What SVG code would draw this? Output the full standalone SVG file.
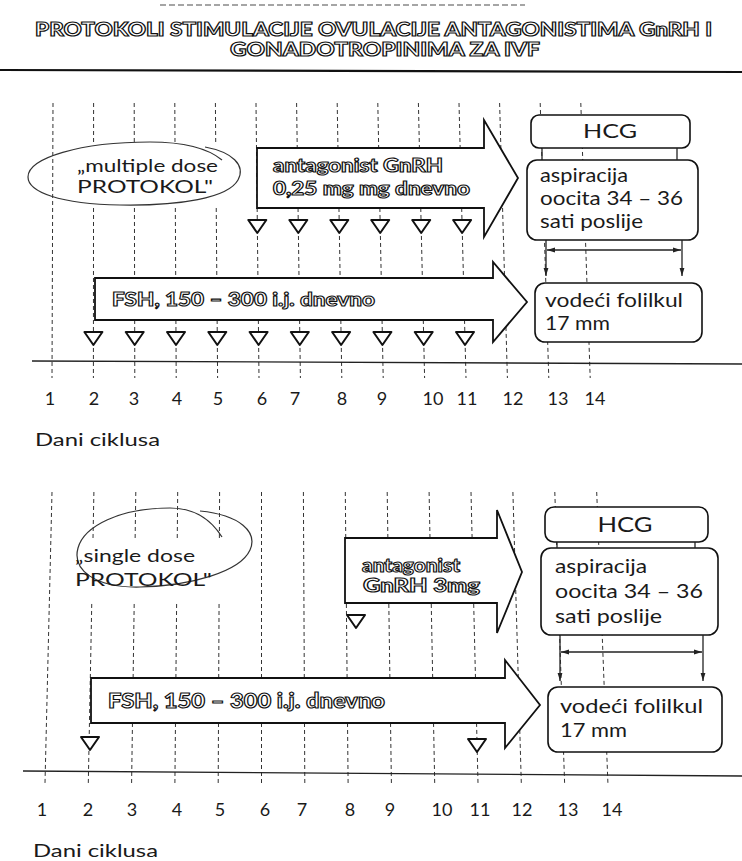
<svg xmlns="http://www.w3.org/2000/svg" width="742" height="861" viewBox="0 0 742 861">
<style>
 .grid line{stroke:#333;stroke-width:1;stroke-dasharray:4 3}
 .axis{stroke:#222;stroke-width:1.3}
 .box{fill:#fff;stroke:#111;stroke-width:1.6}
 .arrow{fill:#fff;stroke:#111;stroke-width:1.8}
 .hollow{font-family:Lato,"Liberation Sans",sans-serif;font-weight:900;fill:#fff;stroke:#111;stroke-width:1.1}
 .t{font-family:Lato,"Open Sans",sans-serif;fill:#1a1a1a}
 .tri{fill:#fff;stroke:#111;stroke-width:2;stroke-linejoin:round}
 .loop{fill:none;stroke:#333;stroke-width:1.2}
 .conn{stroke:#222;stroke-width:1.3;fill:none}
 .mask{fill:#fff}
 .num{font-family:Lato,"Open Sans",sans-serif;font-size:18px;fill:#1a1a1a;text-anchor:middle}
</style>
<defs>
 <path id="tri" d="M-9,0 H9 L0,13 Z"/>
 <marker id="ah" viewBox="0 0 10 10" refX="10" refY="5" markerWidth="8" markerHeight="8" orient="auto-start-reverse" markerUnits="userSpaceOnUse">
  <path d="M0,2 L10,5 L0,8 Z" fill="#222"/>
 </marker>
</defs>
<rect width="742" height="861" fill="#fff"/>

<g id="title">
 <line x1="160" y1="5" x2="525" y2="5" stroke="#888" stroke-width="1.5" stroke-dasharray="6 3"/>
 <text class="hollow" x="35" y="36" font-size="18" textLength="677" lengthAdjust="spacingAndGlyphs">PROTOKOLI STIMULACIJE OVULACIJE ANTAGONISTIMA GnRH I</text>
 <text class="hollow" x="230" y="56" font-size="18" textLength="310" lengthAdjust="spacingAndGlyphs">GONADOTROPINIMA ZA IVF</text>
 <line x1="0" y1="70" x2="742" y2="72" stroke="#111" stroke-width="2.2"/>
</g>

<!-- ============ TOP PANEL ============ -->
<g id="grid-top" class="grid">
 <line x1="53" y1="103" x2="52" y2="378"/>
 <line x1="93.6" y1="103" x2="93.4" y2="378"/>
 <line x1="134.2" y1="103" x2="134.8" y2="378"/>
 <line x1="174.8" y1="103" x2="176.2" y2="378"/>
 <line x1="215.4" y1="103" x2="217.6" y2="378"/>
 <line x1="256" y1="103" x2="259" y2="378"/>
 <line x1="296.6" y1="103" x2="300.4" y2="378"/>
 <line x1="337.2" y1="103" x2="341.8" y2="378"/>
 <line x1="377.8" y1="103" x2="383.2" y2="378"/>
 <line x1="418.4" y1="103" x2="424.6" y2="378"/>
 <line x1="459" y1="103" x2="466" y2="378"/>
 <line x1="499.6" y1="103" x2="507.4" y2="378"/>
 <line x1="540.2" y1="103" x2="548.8" y2="378"/>
 <line x1="580.8" y1="103" x2="590.2" y2="378"/>
</g>
<line class="axis" x1="32" y1="361" x2="742" y2="364"/>

<g id="label-multiple">
 <rect class="mask" x="85" y="145" width="141" height="61"/>
 <path class="loop" d="M205,147 C232,152 246,165 238,180 C228,198 180,206 120,205 C60,204 28,192 28,177 C28,158 80,142 150,142 C180,142 205,146 222,160"/>
 <text class="t" x="77" y="172" font-size="18" textLength="141" lengthAdjust="spacingAndGlyphs">„multiple dose</text>
 <text class="t" x="77" y="193" font-size="18" textLength="136" lengthAdjust="spacingAndGlyphs">PROTOKOL"</text>
</g>

<g id="antagonist-top">
 <path class="arrow" d="M257,148 H484 V120 L518,178 L484,237 V208 H257 Z"/>
 <text class="hollow" x="273" y="172" font-size="18" textLength="170" lengthAdjust="spacingAndGlyphs">antagonist GnRH</text>
 <text class="hollow" x="273" y="195" font-size="18" textLength="197" lengthAdjust="spacingAndGlyphs">0,25 mg mg dnevno</text>
</g>
<g id="antagonist-doses-top">
 <use href="#tri" class="tri" x="257.3" y="220"/>
 <use href="#tri" class="tri" x="298.3" y="220"/>
 <use href="#tri" class="tri" x="339.3" y="220"/>
 <use href="#tri" class="tri" x="380.2" y="220"/>
 <use href="#tri" class="tri" x="421.2" y="220"/>
 <use href="#tri" class="tri" x="462.1" y="220"/>
</g>

<g id="fsh-top">
 <path class="arrow" d="M95,278 H493 V262 L527,302 L493,342 V320 H95 Z"/>
 <text class="hollow" x="112" y="306" font-size="19" textLength="263" lengthAdjust="spacingAndGlyphs">FSH, 150 – 300 i.j. dnevno</text>
</g>
<g id="fsh-doses-top">
 <use href="#tri" class="tri" x="93.4" y="332"/>
 <use href="#tri" class="tri" x="134.7" y="332"/>
 <use href="#tri" class="tri" x="176" y="332"/>
 <use href="#tri" class="tri" x="217.3" y="332"/>
 <use href="#tri" class="tri" x="258.6" y="332"/>
 <use href="#tri" class="tri" x="299.8" y="332"/>
 <use href="#tri" class="tri" x="341.1" y="332"/>
 <use href="#tri" class="tri" x="382.4" y="332"/>
 <use href="#tri" class="tri" x="423.7" y="332"/>
 <use href="#tri" class="tri" x="465" y="332"/>
</g>

<g id="hcg-top">
 <rect class="box" x="531" y="115" width="159" height="33" rx="8"/>
 <text class="t" x="610" y="138" font-size="20" text-anchor="middle" textLength="54" lengthAdjust="spacingAndGlyphs">HCG</text>
</g>
<g id="aspiracija-top">
 <rect class="box" x="527" y="160" width="171" height="80" rx="10"/>
 <text class="t" x="540" y="182" font-size="19" textLength="88" lengthAdjust="spacingAndGlyphs">aspiracija</text>
 <text class="t" x="540" y="205" font-size="19" textLength="143" lengthAdjust="spacingAndGlyphs">oocita 34 – 36</text>
 <text class="t" x="540" y="228" font-size="19" textLength="103" lengthAdjust="spacingAndGlyphs">sati poslije</text>
</g>
<g id="folikul-top">
 <rect class="box" x="535" y="283" width="167" height="59" rx="10"/>
 <text class="t" x="545" y="307" font-size="19" textLength="138" lengthAdjust="spacingAndGlyphs">vodeći folilkul</text>
 <text class="t" x="545" y="330" font-size="19" textLength="65" lengthAdjust="spacingAndGlyphs">17 mm</text>
</g>

<g id="days-top">
 <text class="num" x="50" y="405">1</text>
 <text class="num" x="94" y="405">2</text>
 <text class="num" x="134" y="405">3</text>
 <text class="num" x="177" y="405">4</text>
 <text class="num" x="218" y="405">5</text>
 <text class="num" x="262" y="405">6</text>
 <text class="num" x="295" y="405">7</text>
 <text class="num" x="342" y="405">8</text>
 <text class="num" x="382" y="405">9</text>
 <text class="num" x="433" y="405">10</text>
 <text class="num" x="467" y="405">11</text>
 <text class="num" x="513" y="405">12</text>
 <text class="num" x="558" y="405">13</text>
 <text class="num" x="595" y="405">14</text>
 <text class="t" x="35" y="446" font-size="17" textLength="125" lengthAdjust="spacingAndGlyphs">Dani ciklusa</text>
</g>

<!-- ============ BOTTOM PANEL ============ -->
<g id="grid-bottom" class="grid">
 <line x1="52" y1="492" x2="45" y2="783"/>
 <line x1="93.9" y1="492" x2="88.3" y2="783"/>
 <line x1="135.8" y1="492" x2="131.6" y2="783"/>
 <line x1="177.7" y1="492" x2="174.9" y2="783"/>
 <line x1="219.6" y1="492" x2="218.2" y2="783"/>
 <line x1="261.5" y1="492" x2="261.5" y2="783"/>
 <line x1="303.4" y1="492" x2="304.8" y2="783"/>
 <line x1="345.3" y1="492" x2="348.1" y2="783"/>
 <line x1="387.2" y1="492" x2="391.4" y2="783"/>
 <line x1="429.1" y1="492" x2="434.7" y2="783"/>
 <line x1="471" y1="492" x2="478" y2="783"/>
 <line x1="512.9" y1="492" x2="521.3" y2="783"/>
 <line x1="554.8" y1="492" x2="564.6" y2="783"/>
 <line x1="596.7" y1="492" x2="607.9" y2="783"/>
</g>
<line class="axis" x1="23" y1="771" x2="742" y2="776"/>

<g id="label-single">
 <rect class="mask" x="85" y="538" width="143" height="63"/>
 <path class="loop" d="M200,511 C240,515 258,532 250,550 C240,572 190,586 140,587 C95,588 72,570 78,548 C84,526 120,508 170,508 C190,508 208,515 222,537"/>
 <text class="t" x="75" y="562" font-size="18" textLength="120" lengthAdjust="spacingAndGlyphs">„single dose</text>
 <text class="t" x="75" y="586" font-size="18" textLength="137" lengthAdjust="spacingAndGlyphs">PROTOKOL"</text>
</g>

<g id="antagonist-bottom">
 <path class="arrow" d="M345,538 H497 V510 L522,572 L497,633 V603 H345 Z"/>
 <text class="hollow" x="362" y="572" font-size="18" textLength="98" lengthAdjust="spacingAndGlyphs">antagonist</text>
 <text class="hollow" x="363" y="592" font-size="18" textLength="117" lengthAdjust="spacingAndGlyphs">GnRH 3mg</text>
</g>
<g id="antagonist-dose-bottom">
 <use href="#tri" class="tri" x="356" y="615"/>
</g>

<g id="fsh-bottom">
 <path class="arrow" d="M91,678 H505 V660 L540,705 L505,748 V723 H91 Z"/>
 <text class="hollow" x="108" y="708" font-size="20" textLength="277" lengthAdjust="spacingAndGlyphs">FSH, 150 – 300 i.j. dnevno</text>
</g>
<g id="fsh-doses-bottom">
 <use href="#tri" class="tri" x="90" y="737"/>
 <use href="#tri" class="tri" x="477" y="739"/>
</g>

<g id="hcg-bottom">
 <rect class="box" x="545" y="507" width="163" height="35" rx="9"/>
 <text class="t" x="625" y="532" font-size="21" text-anchor="middle" textLength="55" lengthAdjust="spacingAndGlyphs">HCG</text>
</g>
<g id="aspiracija-bottom">
 <rect class="box" x="541" y="548" width="177" height="87" rx="10"/>
 <text class="t" x="555" y="573" font-size="20" textLength="92" lengthAdjust="spacingAndGlyphs">aspiracija</text>
 <text class="t" x="555" y="598" font-size="20" textLength="148" lengthAdjust="spacingAndGlyphs">oocita 34 – 36</text>
 <text class="t" x="555" y="623" font-size="20" textLength="107" lengthAdjust="spacingAndGlyphs">sati poslije</text>
</g>
<g id="folikul-bottom">
 <rect class="box" x="548" y="687" width="174" height="65" rx="10"/>
 <text class="t" x="560" y="713" font-size="20" textLength="143" lengthAdjust="spacingAndGlyphs">vodeći folilkul</text>
 <text class="t" x="560" y="737" font-size="20" textLength="67" lengthAdjust="spacingAndGlyphs">17 mm</text>
</g>

<g id="days-bottom">
 <text class="num" x="42" y="816">1</text>
 <text class="num" x="88" y="816">2</text>
 <text class="num" x="132" y="816">3</text>
 <text class="num" x="177" y="816">4</text>
 <text class="num" x="220" y="816">5</text>
 <text class="num" x="265" y="816">6</text>
 <text class="num" x="302" y="816">7</text>
 <text class="num" x="350" y="816">8</text>
 <text class="num" x="390" y="816">9</text>
 <text class="num" x="442" y="816">10</text>
 <text class="num" x="480" y="816">11</text>
 <text class="num" x="522" y="816">12</text>
 <text class="num" x="568" y="816">13</text>
 <text class="num" x="612" y="816">14</text>
 <text class="t" x="33" y="857" font-size="17" textLength="125" lengthAdjust="spacingAndGlyphs">Dani ciklusa</text>
</g>

<g id="connectors">
 <line class="conn" x1="542" y1="148" x2="542" y2="160"/>
 <line class="conn" x1="677" y1="148" x2="677" y2="160"/>
 <line class="conn" x1="546" y1="240" x2="546" y2="276" marker-end="url(#ah)"/>
 <line class="conn" x1="682" y1="240" x2="682" y2="276" marker-end="url(#ah)"/>
 <line class="conn" x1="547" y1="250" x2="681" y2="250" marker-start="url(#ah)" marker-end="url(#ah)"/>
 <line class="conn" x1="557" y1="542" x2="557" y2="548"/>
 <line class="conn" x1="695" y1="542" x2="695" y2="548"/>
 <line class="conn" x1="560" y1="635" x2="560" y2="681" marker-end="url(#ah)"/>
 <line class="conn" x1="703" y1="635" x2="703" y2="681" marker-end="url(#ah)"/>
 <line class="conn" x1="561" y1="652" x2="702" y2="652" marker-start="url(#ah)" marker-end="url(#ah)"/>
</g>
</svg>
